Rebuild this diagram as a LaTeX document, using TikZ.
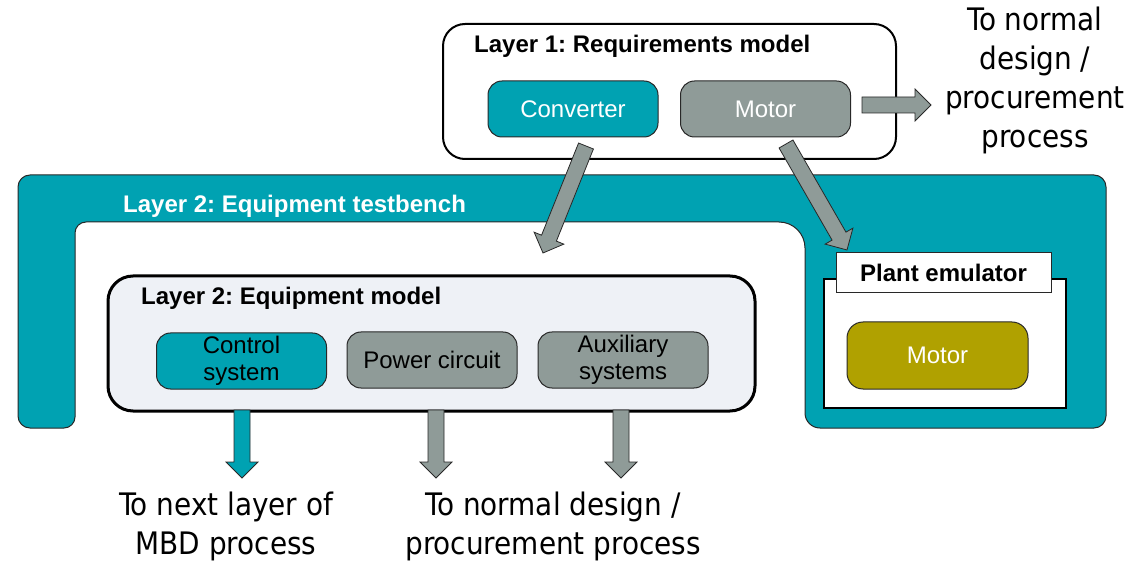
\documentclass[tikz,border=0pt]{standalone}
\usepackage{fontspec}
\setmainfont{Liberation Sans}
\newfontfamily\notefont{DejaVu Sans Condensed}
\usetikzlibrary{calc}
\frenchspacing

\definecolor{mbdteal}{RGB}{0,162,178}
\definecolor{mbdgray}{RGB}{143,155,152}
\definecolor{mbdolive}{RGB}{176,161,0}
\definecolor{mbdlight}{RGB}{238,241,246}
\definecolor{mbdline}{RGB}{40,40,40}

% block arrow from tail #2 to tip #3, filled with #1
\newcommand\blockarrow[3]{%
  \path[draw=mbdline, line width=0.8pt, fill=#1, line join=miter]
    let \p1=(#2), \p2=(#3),
        \n1={atan2(\y2-\y1,\x2-\x1)},
        \n2={veclen(\x2-\x1,\y2-\y1)} in
    [shift={(\p1)}, rotate=\n1]
    (0pt,8pt) -- ({\n2*1pt-16pt},8pt) -- ({\n2*1pt-16pt},16pt)
    -- ({\n2*1pt},0pt) -- ({\n2*1pt-16pt},-16pt) -- ({\n2*1pt-16pt},-8pt)
    -- (0pt,-8pt) -- cycle;}

\tikzset{
  boxtext/.style={font=\fontsize{24}{27.5}\selectfont},
  titletext/.style={font=\bfseries\fontsize{24}{28}\selectfont, inner sep=0pt},
  comp/.style={draw=mbdline, line width=1pt, rounded corners=14pt,
    minimum width=170pt, minimum height=56pt, inner sep=0pt,
    align=center, boxtext},
  panel/.style={draw=black, line width=2pt, fill=white, inner sep=0pt},
  notetext/.style={font=\notefont\fontsize{31}{39}\selectfont,
    align=center, inner sep=0pt},
}

\begin{document}
\begin{tikzpicture}[x=1pt,y=-1pt]
\useasboundingbox (0,0) rectangle (1130,561);

% ---------- Layer 1 ----------
\node[panel, rounded corners=22pt, minimum width=453pt, minimum height=135pt]
  (l1) at (669.5,91.5) {};
\node[titletext, anchor=west] (l1title) at (474,46) {Layer 1: Requirements model};
\node[comp, fill=mbdteal, text=white] (conv) at (573,109) {Converter};
\node[comp, fill=mbdgray, text=white] (motA) at (765.5,109) {Motor};

\node[notetext] (outR) at (1035,80) {To normal\\design /\\procurement\\process};
\coordinate (rTail) at (862,105);
\coordinate (rTip) at (931,105);
\blockarrow{mbdgray}{rTail}{rTip}

% ---------- Layer 2 testbench (inverted U) ----------
\path[draw=mbdline, line width=1pt, fill=mbdteal]
  (46,428) [rounded corners=12pt] -- (18,428) -- (18,175) -- (1106,175)
  -- (1106,428) -- (900,428) [rounded corners=15pt] -- (805,428) -- (805,330)
  [rounded corners=26pt] -- (805,222) -- (700,222)
  [rounded corners=11pt] -- (75,222) -- (75,428) -- cycle;
\node[titletext, text=white, anchor=west] (benchtitle) at (123,206)
  {Layer 2: Equipment testbench};

% ---------- Layer 2 equipment model ----------
\node[panel, line width=3pt, fill=mbdlight, rounded corners=25pt,
  minimum width=647pt, minimum height=135pt] (eqm) at (431.5,343.5) {};
\node[titletext, anchor=west] (eqmtitle) at (141,298) {Layer 2: Equipment model};
\node[comp, fill=mbdteal] (ctrl) at (241.5,361) {Control\\system};
\node[comp, fill=mbdgray] (power) at (432,360) {Power circuit};
\node[comp, fill=mbdgray] (aux) at (623,360) {Auxiliary\\systems};

% ---------- Plant emulator ----------
\node[draw=black, line width=2.5pt, fill=white, inner sep=0pt,
  minimum width=242pt, minimum height=129pt] (plant) at (945,343.5) {};
\node[draw=mbdline, line width=1pt, fill=white, inner sep=0pt,
  minimum width=215pt, minimum height=40pt, titletext] (plantlbl)
  at (943.5,273) {Plant emulator};
\node[comp, fill=mbdolive, text=white, rounded corners=16pt,
  minimum width=181pt, minimum height=67pt] (motB) at (937.5,355.5) {Motor};

% ---------- diagonal arrows from layer 1 ----------
\coordinate (cTail) at (586,146);
\coordinate (cTip) at (543,253);
\blockarrow{mbdgray}{cTail}{cTip}
\coordinate (mTail) at (786,144);
\coordinate (mTip) at (847,250);
\blockarrow{mbdgray}{mTail}{mTip}

% ---------- outputs of the equipment model ----------
\coordinate (d1) at (242,410);
\coordinate (d1t) at (242,478);
\coordinate (d2) at (436,410);
\coordinate (d2t) at (436,478);
\coordinate (d3) at (621,410);
\coordinate (d3t) at (621,478);
\blockarrow{mbdteal}{d1}{d1t}
\blockarrow{mbdgray}{d2}{d2t}
\blockarrow{mbdgray}{d3}{d3t}

\node[notetext] (outA) at (226,526) {To next layer of\\MBD process};
\node[notetext] (outB) at (553,526) {To normal design /\\procurement process};
\end{tikzpicture}
\end{document}
